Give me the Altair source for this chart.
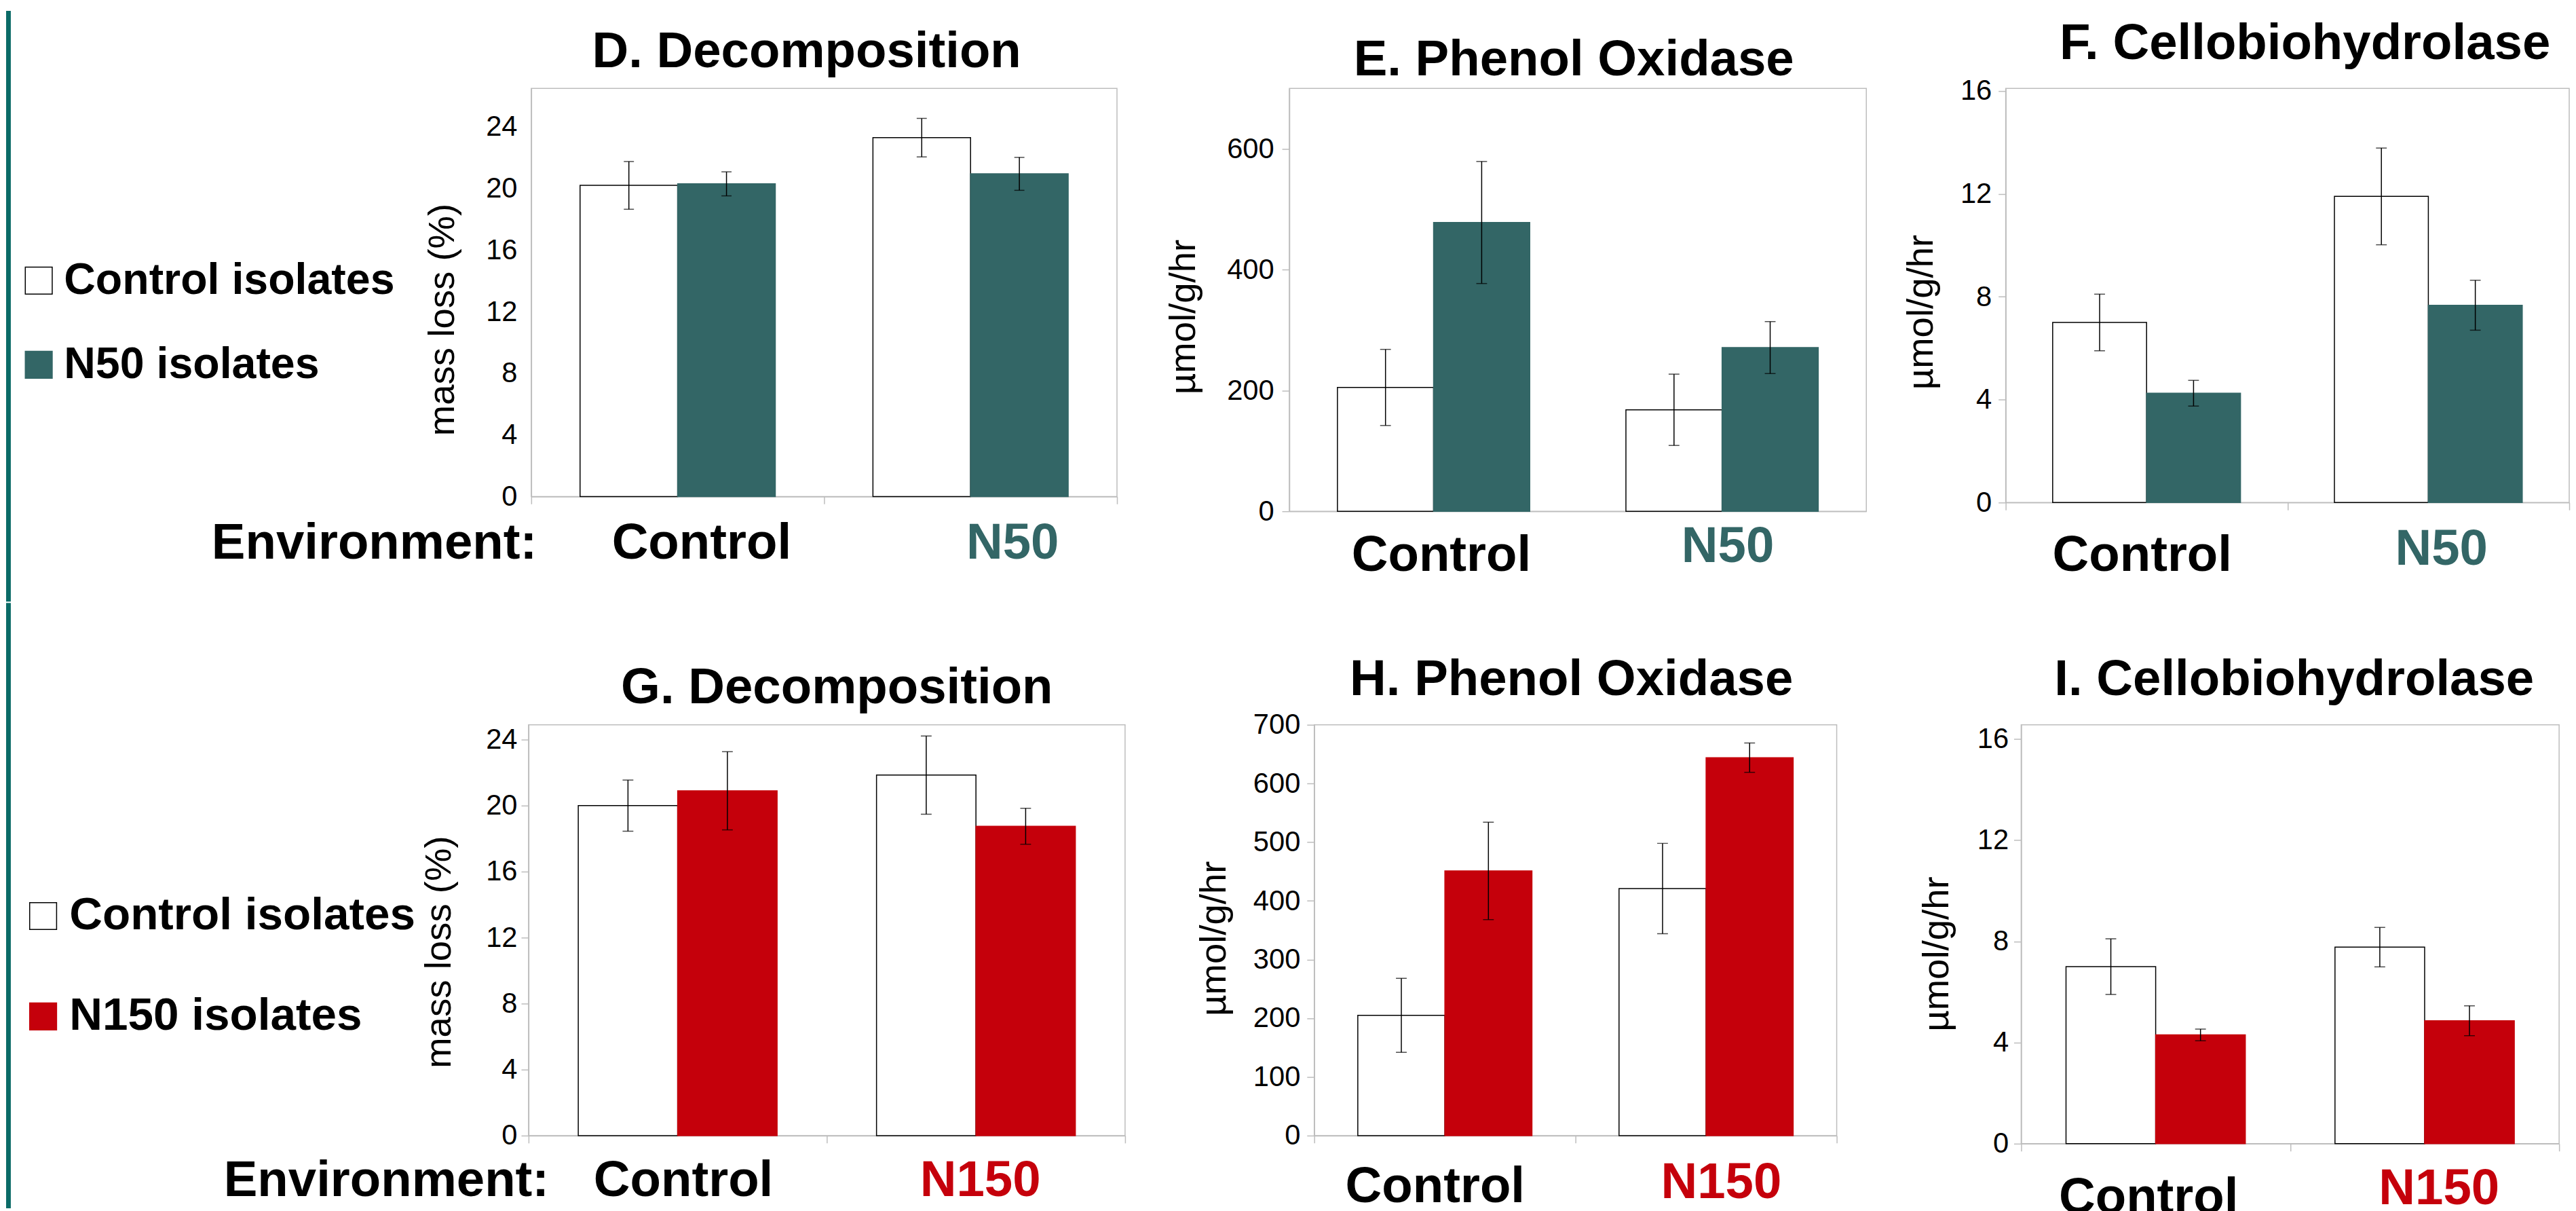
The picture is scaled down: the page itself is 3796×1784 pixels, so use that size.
import altair as alt
import pandas as pd

TEAL = "#336666"
RED = "#C5000B"
LINE = "#0B6B67"
FRAME = "#BDBDBD"
FONT = "Liberation Sans"

# ---- categories ----
ENV_TOP = ["Control", "N50"]
ENV_BOT = ["Control", "N150"]
ISO_TOP = ["Control isolates", "N50 isolates"]
ISO_BOT = ["Control isolates", "N150 isolates"]

# ---- values, order = [Control environment, N environment] ----
# D. Decomposition (mass loss %)
D_ctrl_mean = [20.2, 23.3]
D_ctrl_se = [1.55, 1.25]
D_trt_mean = [20.3, 20.95]
D_trt_se = [0.78, 1.07]
# E. Phenol Oxidase (umol/g/hr)
E_ctrl_mean = [205, 168]
E_ctrl_se = [63, 59]
E_trt_mean = [478, 271]
E_trt_se = [101, 43]
# F. Cellobiohydrolase
F_ctrl_mean = [7.0, 11.9]
F_ctrl_se = [1.1, 1.88]
F_trt_mean = [4.25, 7.67]
F_trt_se = [0.5, 0.97]
# G. Decomposition
G_ctrl_mean = [20.0, 21.85]
G_ctrl_se = [1.55, 2.37]
G_trt_mean = [20.9, 18.75]
G_trt_se = [2.37, 1.09]
# H. Phenol Oxidase
H_ctrl_mean = [205, 421]
H_ctrl_se = [63, 77]
H_trt_mean = [451, 644]
H_trt_se = [83, 25]
# I. Cellobiohydrolase
I_ctrl_mean = [7.0, 7.77]
I_ctrl_se = [1.1, 0.78]
I_trt_mean = [4.3, 4.86]
I_trt_se = [0.23, 0.59]

TICKS_DECOMP = [0, 4, 8, 12, 16, 20, 24]
TICKS_PHENOL_TOP = [0, 200, 400, 600]
TICKS_PHENOL_BOT = [0, 100, 200, 300, 400, 500, 600, 700]
TICKS_CBH = [0, 4, 8, 12, 16]


def table(envs, isos, cm, cs, tm, ts):
    rows = []
    for i, e in enumerate(envs):
        for iso, m, s in ((isos[0], cm[i], cs[i]), (isos[1], tm[i], ts[i])):
            rows.append({"env": e, "iso": iso, "mean": m, "lo": m - s, "hi": m + s})
    return pd.DataFrame(rows)


def by_label(first, other):
    return {"condition": {"test": "datum.value === 'Control'", "value": first}, "value": other}


def panel(df, envs, isos, color, *, w, h, ymax, yticks, title, t_dx, t_off,
          ytitle, ytx, yty, y_ticks_on, y_lpad, x_ticks_on, x_loff, x_lpad,
          env_label=None, env_x=0, env_y=0, legend=None, cap=16):
    xaxis = alt.Axis(
        title=env_label, titleX=env_x, titleY=env_y, titleAlign="right",
        titleBaseline="alphabetic", titleAngle=0, titleFontSize=75,
        titleFontWeight="bold", titleFont=FONT, titleColor="black",
        labelAngle=0, labelFontSize=75, labelFontWeight="bold", labelFont=FONT,
        labelColor=by_label("black", color), labelBaseline="alphabetic",
        labelPadding=by_label(*x_lpad), labelOffset=by_label(*x_loff),
        labelLimit=0, labelOverlap=False,
        ticks=x_ticks_on, tickBand="extent", tickSize=11, tickColor=FRAME,
        tickWidth=1.5, domainColor=FRAME, domainWidth=1.5, grid=False)
    yaxis = alt.Axis(
        title=ytitle, titleX=ytx, titleY=yty, titleAngle=270, titleAlign="center",
        titleBaseline="middle", titleFontSize=55, titleFontWeight="normal",
        titleFont=FONT, titleColor="black", values=yticks, labelFontSize=42,
        labelFont=FONT, labelColor="black", labelPadding=y_lpad, labelLimit=0,
        ticks=y_ticks_on, tickSize=11, tickColor=FRAME, tickWidth=1.5,
        domainColor=FRAME, domainWidth=1.5, grid=False)
    xs = alt.Scale(domain=envs, paddingInner=0, paddingOuter=0)
    xo = alt.Scale(domain=isos, paddingInner=0, paddingOuter=0.5)
    ys = alt.Scale(domain=[0, ymax], nice=False, zero=True)

    X = alt.X("env:N", scale=xs, axis=xaxis)
    XO = alt.XOffset("iso:N", scale=xo)

    def Y(field):
        return alt.Y(field, type="quantitative", scale=ys, axis=yaxis)

    if legend is not None:
        fill = alt.Fill("iso:N", scale=alt.Scale(domain=isos, range=["white", color]), legend=legend)
        stroke = alt.Stroke("iso:N", scale=alt.Scale(domain=isos, range=["black", color]), legend=legend)
    else:
        fill = alt.Fill("iso:N", scale=alt.Scale(domain=isos, range=["white", color]), legend=None)
        stroke = alt.Stroke("iso:N", scale=alt.Scale(domain=isos, range=["black", color]), legend=None)

    base = alt.Chart(df)
    bars = base.mark_bar(strokeWidth=1.5).encode(x=X, xOffset=XO, y=Y("mean"), fill=fill, stroke=stroke)
    err = base.mark_rule(color="black", strokeWidth=1.5).encode(x=X, xOffset=XO, y=Y("lo"), y2="hi:Q")
    cap_lo = base.mark_tick(color="black", thickness=1.5, size=cap).encode(x=X, xOffset=XO, y=Y("lo"))
    cap_hi = base.mark_tick(color="black", thickness=1.5, size=cap).encode(x=X, xOffset=XO, y=Y("hi"))
    t = alt.TitleParams(text=title, fontSize=75, font=FONT, fontWeight="bold", color="black",
                        anchor="middle", frame="group", dx=t_dx, offset=t_off,
                        baseline="alphabetic")
    return alt.layer(bars, err, cap_lo, cap_hi).properties(width=w, height=h, title=t)


def legend(lx, ly, size, rp):
    return alt.Legend(orient="none", legendX=lx, legendY=ly, title=None, symbolType="square",
                      symbolSize=1600, symbolStrokeWidth=1.5, labelFontSize=size,
                      labelFontWeight="bold", labelFont=FONT, labelColor="black",
                      labelLimit=0, labelOffset=5, rowPadding=rp, padding=0,
                      direction="vertical")


def strip(y_top, y_bot):
    return alt.Chart(pd.DataFrame({"edge": [0]})).mark_rect(color=LINE).encode(
        x=alt.value(0), x2=alt.value(7), y=alt.value(y_top), y2=alt.value(y_bot)).properties(
        width=7, height=1, view=alt.ViewBackground(stroke="transparent"))


def indep(c):
    return c.resolve_scale(fill="independent", stroke="independent", x="independent",
                           y="independent", xOffset="independent").resolve_legend(
        fill="independent", stroke="independent")


def hc(a, b, sp):
    return indep(alt.hconcat(a, b, spacing=sp))


dD = table(ENV_TOP, ISO_TOP, D_ctrl_mean, D_ctrl_se, D_trt_mean, D_trt_se)
dE = table(ENV_TOP, ISO_TOP, E_ctrl_mean, E_ctrl_se, E_trt_mean, E_trt_se)
dF = table(ENV_TOP, ISO_TOP, F_ctrl_mean, F_ctrl_se, F_trt_mean, F_trt_se)
dG = table(ENV_BOT, ISO_BOT, G_ctrl_mean, G_ctrl_se, G_trt_mean, G_trt_se)
dH = table(ENV_BOT, ISO_BOT, H_ctrl_mean, H_ctrl_se, H_trt_mean, H_trt_se)
dI = table(ENV_BOT, ISO_BOT, I_ctrl_mean, I_ctrl_se, I_trt_mean, I_trt_se)

D = panel(dD, ENV_TOP, ISO_TOP, TEAL, w=870, h=606, ymax=26.5, yticks=TICKS_DECOMP,
          title="D. Decomposition", t_dx=-26, t_off=-44, ytitle="mass loss (%)",
          ytx=-132, yty=343, y_ticks_on=False, y_lpad=21, x_ticks_on=True,
          x_loff=(35, 62), x_lpad=(81, 81), env_label="Environment:", env_x=8, env_y=92,
          legend=legend(-764, 253, 65, 59), cap=15)
E = panel(dE, ENV_TOP, ISO_TOP, TEAL, w=857, h=628, ymax=700, yticks=TICKS_PHENOL_TOP,
          title="E. Phenol Oxidase", t_dx=-6, t_off=-56, ytitle="µmol/g/hr",
          ytx=-158, yty=339, y_ticks_on=True, y_lpad=12, x_ticks_on=False,
          x_loff=(11, 8), x_lpad=(88, 75))
F = panel(dF, ENV_TOP, ISO_TOP, TEAL, w=837, h=615, ymax=16.1, yticks=TICKS_CBH,
          title="F. Cellobiohydrolase", t_dx=26, t_off=-49, ytitle="µmol/g/hr",
          ytx=-126, yty=332, y_ticks_on=True, y_lpad=10, x_ticks_on=True,
          x_loff=(-7, 19), x_lpad=(90, 81))
G = panel(dG, ENV_BOT, ISO_BOT, RED, w=886, h=610, ymax=24.9, yticks=TICKS_DECOMP,
          title="G. Decomposition", t_dx=15, t_off=-43, ytitle="mass loss (%)",
          ytx=-133, yty=337, y_ticks_on=True, y_lpad=6, x_ticks_on=True,
          x_loff=(8, 6), x_lpad=(78, 78), env_label="Environment:", env_x=30, env_y=89,
          legend=legend(-755, 250, 68, 81))
H = panel(dH, ENV_BOT, ISO_BOT, RED, w=776, h=610, ymax=700, yticks=TICKS_PHENOL_BOT,
          title="H. Phenol Oxidase", t_dx=-6, t_off=-52, ytitle="µmol/g/hr",
          ytx=-149, yty=317, y_ticks_on=True, y_lpad=10, x_ticks_on=True,
          x_loff=(-15, 22), x_lpad=(87, 81))
I = panel(dI, ENV_BOT, ISO_BOT, RED, w=799, h=622, ymax=16.56, yticks=TICKS_CBH,
          title="I. Cellobiohydrolase", t_dx=6, t_off=-31, ytitle="µmol/g/hr",
          ytx=-126, yty=340, y_ticks_on=True, y_lpad=8, x_ticks_on=True,
          x_loff=(-11, 21), x_lpad=(91, 78))

row1 = hc(hc(hc(strip(-115, 762), D, 7), E, 68), F, 52)
row2 = hc(hc(hc(strip(-181, 718), G, 12), H, 102), I, 118)

chart = indep(alt.vconcat(row1, row2, spacing=0)).properties(padding=0).configure(
    font=FONT).configure_view(stroke=FRAME, strokeWidth=1.5)

chart.save("out.html", embed_options={"renderer": "svg", "actions": False})
